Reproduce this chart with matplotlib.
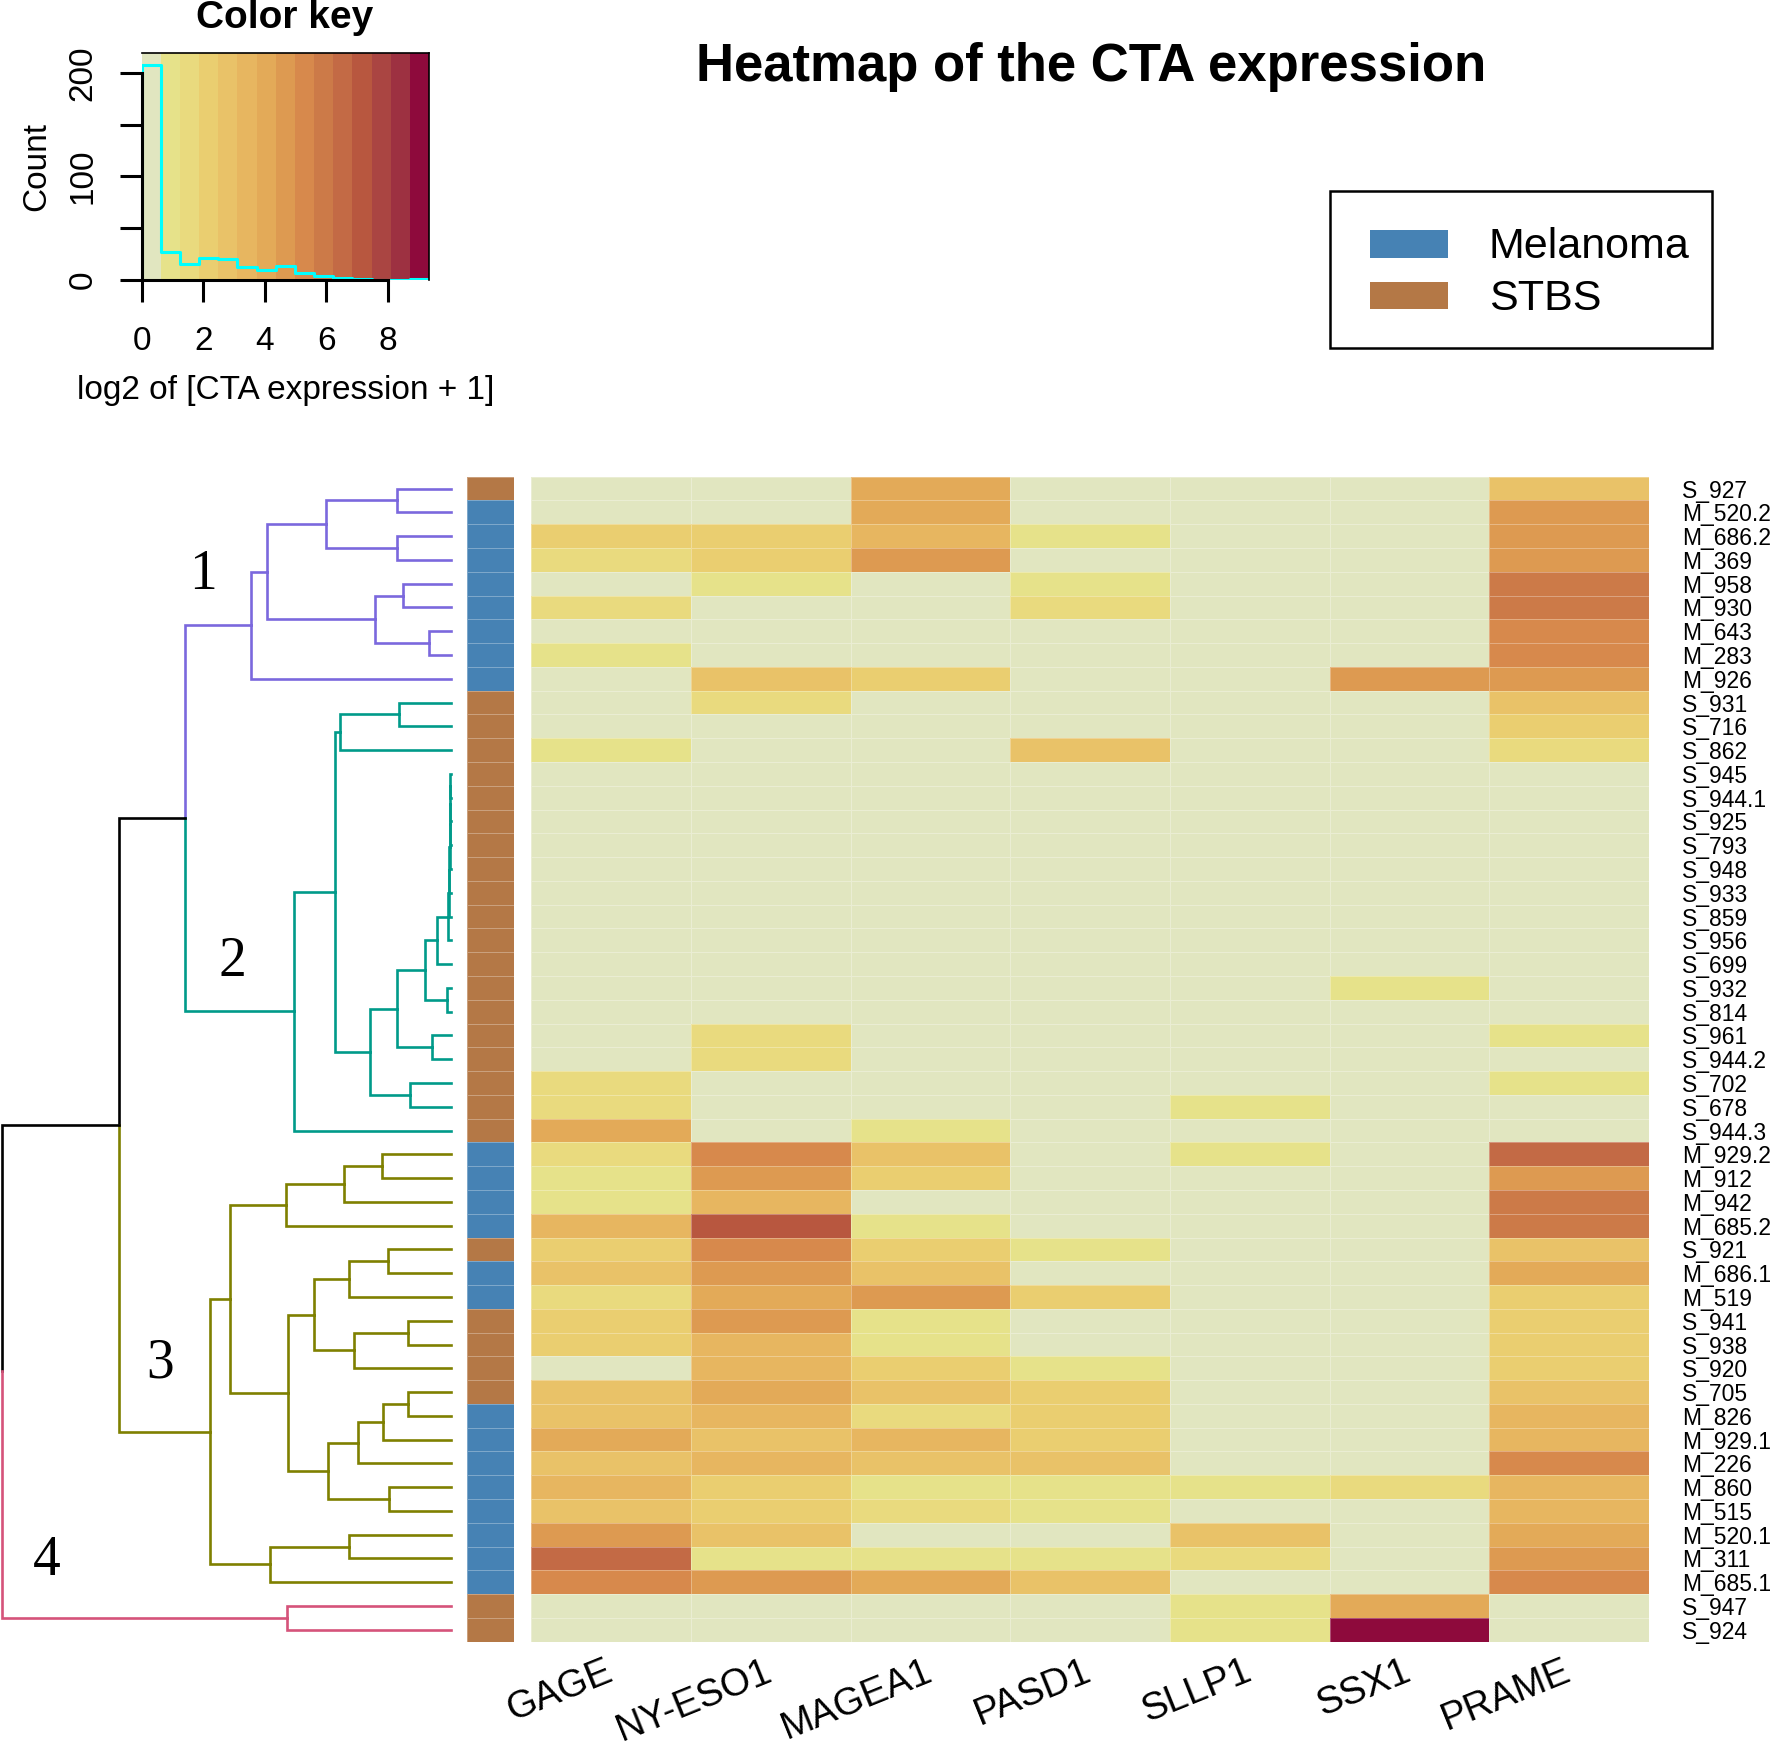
import numpy as np
import matplotlib.pyplot as plt
from matplotlib.colors import ListedColormap, BoundaryNorm
from matplotlib.patches import Rectangle

plt.rcParams['font.family'] = ['Liberation Sans', 'DejaVu Sans']

# ---- data (log2 of [CTA expression + 1]), rows in dendrogram order ----
samples = ["S_927", "M_520.2", "M_686.2", "M_369", "M_958", "M_930", "M_643", "M_283", "M_926",
           "S_931", "S_716", "S_862", "S_945", "S_944.1", "S_925", "S_793", "S_948", "S_933",
           "S_859", "S_956", "S_699", "S_932", "S_814", "S_961", "S_944.2", "S_702", "S_678",
           "S_944.3", "M_929.2", "M_912", "M_942", "M_685.2", "S_921", "M_686.1", "M_519",
           "S_941", "S_938", "S_920", "S_705", "M_826", "M_929.1", "M_226", "M_860", "M_515",
           "M_520.1", "M_311", "M_685.1", "S_947", "S_924"]
genes = ["GAGE", "NY-ESO1", "MAGEA1", "PASD1", "SLLP1", "SSX1", "PRAME"]

GAGE = [0, 0, 2.2, 1.6, 0, 1.6, 0, 0.9, 0, 0,
        0, 0.9, 0, 0, 0, 0, 0, 0, 0, 0,
        0, 0, 0, 0, 0, 1.6, 1.6, 4.0, 1.6, 0.9,
        0.9, 3.4, 2.2, 2.8, 1.6, 2.2, 2.2, 0, 2.8, 2.8,
        4.0, 2.8, 3.4, 2.8, 4.7, 6.5, 5.3, 0, 0]
NY_ESO1 = [0, 0, 2.2, 2.2, 0.9, 0, 0, 0, 2.8, 1.6,
           0, 0, 0, 0, 0, 0, 0, 0, 0, 0,
           0, 0, 0, 1.6, 1.6, 0, 0, 0, 5.3, 4.7,
           3.4, 7.2, 5.3, 4.7, 4.0, 4.7, 3.4, 3.4, 4.0, 3.4,
           2.8, 3.4, 2.2, 2.2, 2.8, 0.9, 4.7, 0, 0]
MAGEA1 = [4.0, 4.0, 3.4, 4.7, 0, 0, 0, 0, 2.2, 0,
          0, 0, 0, 0, 0, 0, 0, 0, 0, 0,
          0, 0, 0, 0, 0, 0, 0, 0.9, 2.8, 2.2,
          0, 0.9, 2.2, 2.8, 4.7, 0.9, 0.9, 2.2, 2.8, 1.6,
          3.4, 2.8, 0.9, 1.6, 0, 0.9, 4.0, 0, 0]
PASD1 = [0, 0, 0.9, 0, 0.9, 1.6, 0, 0, 0, 0,
         0, 2.8, 0, 0, 0, 0, 0, 0, 0, 0,
         0, 0, 0, 0, 0, 0, 0, 0, 0, 0,
         0, 0, 0.9, 0, 2.2, 0, 0, 0.9, 2.2, 2.2,
         2.2, 2.8, 0.9, 0.9, 0, 0.9, 2.8, 0, 0]
SLLP1 = [0, 0, 0, 0, 0, 0, 0, 0, 0, 0,
         0, 0, 0, 0, 0, 0, 0, 0, 0, 0,
         0, 0, 0, 0, 0, 0, 0.9, 0, 0.9, 0,
         0, 0, 0, 0, 0, 0, 0, 0, 0, 0,
         0, 0, 0.9, 0, 2.8, 1.6, 0, 0.9, 0.9]
SSX1 = [0, 0, 0, 0, 0, 0, 0, 0, 4.7, 0,
        0, 0, 0, 0, 0, 0, 0, 0, 0, 0,
        0, 0.9, 0, 0, 0, 0, 0, 0, 0, 0,
        0, 0, 0, 0, 0, 0, 0, 0, 0, 0,
        0, 0, 1.6, 0, 0, 0, 0, 4.0, 9.34]
PRAME = [2.8, 4.7, 4.7, 4.7, 5.9, 5.9, 5.3, 5.3, 4.7, 2.8,
         2.2, 1.6, 0, 0, 0, 0, 0, 0, 0, 0,
         0, 0, 0, 0.9, 0, 0.9, 0, 0, 6.5, 4.7,
         5.9, 5.9, 2.8, 4.0, 2.2, 2.2, 2.2, 2.2, 2.8, 3.4,
         3.4, 5.3, 3.4, 3.4, 4.0, 4.7, 5.3, 0, 0]

# hierarchical clustering of the rows: (node, left, right, merge height)
merges = [
    ("a", 0, 1, 2.05), ("b", 2, 3, 2.05), ("ab", "a", "b", 4.72),
    ("d", 4, 5, 1.82), ("e", 6, 7, 0.85), ("de", "d", "e", 2.87),
    ("g", "ab", "de", 6.97), ("c1", "g", 8, 7.58),
    ("p", 9, 10, 1.98), ("p2", "p", 11, 4.22),
    ("t1", 12, 13, 0.02), ("t2", "t1", 14, 0.03), ("t3", "t2", 15, 0.04),
    ("t4", "t3", 16, 0.05), ("t5", "t4", 17, 0.06), ("t6", "t5", 18, 0.08),
    ("t7", "t6", 19, 0.10), ("u", "t7", 20, 0.53), ("v0", 21, 22, 0.15),
    ("v", "u", "v0", 0.97), ("w", 23, 24, 0.72), ("y", "v", "w", 2.05),
    ("z", 25, 26, 1.54), ("x", "y", "z", 3.06), ("l", "p2", "x", 4.38),
    ("c2", "l", 27, 5.94),
    ("q1", 28, 29, 2.61), ("q2", "q1", 30, 4.07), ("q3", "q2", 31, 6.25),
    ("r1", 32, 33, 2.39), ("r2", "r1", 34, 3.88), ("s1", 35, 36, 1.64),
    ("s2", "s1", 37, 3.66), ("rs", "r2", "s2", 5.18),
    ("o1", 38, 39, 1.61), ("o2", "o1", 40, 2.59), ("o3", "o2", 41, 3.54),
    ("o4", 42, 43, 2.36), ("o5", "o3", "o4", 4.67), ("rso", "rs", "o5", 6.19),
    ("qr", "q3", "rso", 8.36), ("k1", 44, 45, 3.85), ("k2", "k1", 46, 6.87),
    ("c3", "qr", "k2", 9.12),
    ("c4", 47, 48, 6.21),
    ("i", "c1", "c2", 10.06), ("j", "i", "c3", 12.56), ("root", "j", "c4", 17.0),
]
cluster_roots = ["c1", "c2", "c3", "c4"]
cluster_names = ["1", "2", "3", "4"]

# ---- styles ----
key_colors = ['#E1E6C0', '#E6E28A', '#E9DA7E', '#EACE70', '#E9C268', '#E7B660',
              '#E3AA58', '#DD9A51', '#D7894C', '#CC7A48', '#C36A45', '#B8573F',
              '#AA4542', '#9D3141', '#8E0A3C']
cluster_colors = ['#7B68DD', '#009A8A', '#7F8000', '#D5537A']
group_colors = {"Melanoma": '#4682B4', "STBS": '#B47846'}

W, H = 1773, 1745
fig = plt.figure(figsize=(W / 100, H / 100), dpi=100)


def box(x0, y0, x1, y1):
    return fig.add_axes([x0 / W, 1 - y1 / H, (x1 - x0) / W, (y1 - y0) / H])


def fx(x):
    return x / W


def fy(y):
    return 1 - y / H


expr = np.column_stack([GAGE, NY_ESO1, MAGEA1, PASD1, SLLP1, SSX1, PRAME])
n_rows = len(samples)
breaks = np.linspace(0, expr.max(), len(key_colors) + 1)
cmap = ListedColormap(key_colors)
norm = BoundaryNorm(breaks, cmap.N, clip=True)

# heatmap
ax = box(531.3, 476.7, 1649, 1641.7)
ax.pcolormesh(expr, cmap=cmap, norm=norm, edgecolors=(1, 1, 1, 0.3), linewidth=0.6)
ax.set_xlim(0, len(genes))
ax.set_ylim(n_rows, 0)
ax.set_xticks([])
ax.yaxis.tick_right()
ax.set_yticks(np.arange(n_rows) + 0.5, samples, fontsize=16.5)
ax.tick_params(axis='y', length=0, pad=24)
for s in ax.spines.values():
    s.set_visible(False)
for j, g in enumerate(genes):
    ax.text(j + 0.5, n_rows + 1.2, g, rotation=22, rotation_mode='anchor',
            ha='right', va='center', fontsize=27.5)

# sample type side bar
groups = ["Melanoma" if s.startswith("M") else "STBS" for s in samples]
side = box(467.3, 476.7, 514.5, 1641.7)
gcode = np.array([[list(group_colors).index(g)] for g in groups])
side.pcolormesh(gcode, cmap=ListedColormap(list(group_colors.values())), vmin=0, vmax=1,
                edgecolors=(1, 1, 1, 0.3), linewidth=0.6)
side.set_ylim(n_rows, 0)
side.axis('off')

# row dendrogram
den = box(2, 476.7, 451, 1641.7)
pos = {i: i + 0.5 for i in range(n_rows)}
hgt = {i: 0.0 for i in range(n_rows)}
leaves = {i: {i} for i in range(n_rows)}
for name, a, b, h in merges:
    pos[name] = (pos[a] + pos[b]) / 2
    hgt[name] = h
    leaves[name] = leaves[a] | leaves[b]
clusters = [(leaves[c], col) for c, col in zip(cluster_roots, cluster_colors)]


def edge_color(node):
    for members, col in clusters:
        if leaves[node] <= members:
            return col
    return 'black'


for name, a, b, h in merges:
    for c in (a, b):
        den.plot([h, h, hgt[c]], [pos[name], pos[c], pos[c]], color=edge_color(c),
                 lw=1.9, solid_joinstyle='miter', clip_on=False)
den.set_xlim(hgt["root"], 0)
den.set_ylim(n_rows, 0)
den.axis('off')

label_xy = [(203, 575), (232, 962), (160, 1364), (47, 1561)]
for txt, (x, y) in zip(cluster_names, label_xy):
    fig.text(fx(x), fy(y), txt, family='Liberation Serif', fontsize=40,
             ha='center', va='center')

# colour key with histogram
key = box(141.7, 53.3, 429, 280)
counts, _ = np.histogram(expr.ravel(), bins=breaks)
ytop = counts.max() / 0.95
mids = (breaks[:-1] + breaks[1:]) / 2
key.pcolormesh(breaks, [0, ytop], mids[None, :], cmap=cmap, norm=norm)
key.step(np.r_[0, breaks], np.r_[0, counts, counts[-1]], where='post', color='cyan', lw=2.2)
key.set_xlim(0, breaks[-1])
key.set_ylim(0, ytop)
key.set_xticks([0, 2, 4, 6, 8])
key.set_yticks([0, 50, 100, 150, 200])
key.set_yticklabels(['0', '', '100', '', '200'], rotation=90, va='center')
key.tick_params(axis='x', length=16, width=2.2, labelsize=24, pad=17)
key.tick_params(axis='y', length=16, width=2.2, labelsize=24, pad=15)
key.spines['bottom'].set_bounds(0, 8)
key.spines['left'].set_bounds(0, 200)
key.spines['bottom'].set_linewidth(2.2)
key.spines['left'].set_linewidth(2.2)
key.spines['top'].set_linewidth(1.2)
key.spines['right'].set_linewidth(1.2)
key.set_xlabel('log2 of [CTA expression + 1]', fontsize=24, labelpad=13)
key.set_ylabel('Count', fontsize=24, labelpad=11)
fig.text(fx(285), fy(28), 'Color key', weight='bold', fontsize=28,
         ha='center', va='baseline')

fig.text(fx(1091), fy(81), 'Heatmap of the CTA expression', weight='bold',
         fontsize=38, ha='center', va='baseline')

# legend for the side bar
fig.add_artist(Rectangle((fx(1330), fy(348)), fx(1712) - fx(1330), fy(191) - fy(348),
                         transform=fig.transFigure, fill=False, edgecolor='black', lw=1.8))
for k, (name, col) in enumerate(group_colors.items()):
    yc = 244 + 52 * k
    fig.add_artist(Rectangle((fx(1370), fy(yc + 13.5)), fx(1448) - fx(1370), fy(yc - 13.5) - fy(yc + 13.5),
                             transform=fig.transFigure, facecolor=col, edgecolor='none'))
    fig.text(fx(1489), fy(yc + 3.5), name, fontsize=31, ha='left', va='center')

fig.savefig('out.png', dpi=100)
